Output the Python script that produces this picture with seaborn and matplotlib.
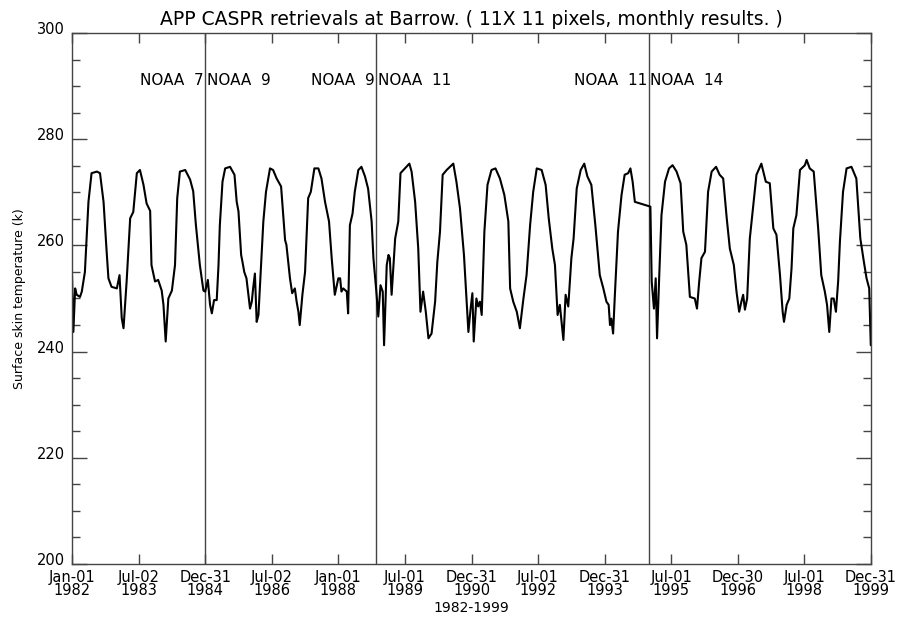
import numpy as np
import pandas as pd
import matplotlib
matplotlib.use("Agg")
import matplotlib.pyplot as plt
from matplotlib.ticker import MultipleLocator
from matplotlib.transforms import ScaledTranslation
import seaborn as sns

# ---- data (years since 1982-01-01, skin temperature in K) ----
t_years = [
    0.00, 0.03, 0.07, 0.105, 0.18, 0.22, 0.29, 0.37, 0.44, 0.56, 0.63, 0.71, 0.78, 0.82, 0.89,
    1.01, 1.07, 1.12, 1.16, 1.23, 1.31, 1.38, 1.46, 1.53, 1.61, 1.68, 1.76, 1.79, 1.87, 1.94,
    2.02, 2.06, 2.11, 2.17, 2.25, 2.32, 2.37, 2.43, 2.55, 2.66, 2.73, 2.79, 2.88, 2.96,
    3.00, 3.06, 3.11, 3.15, 3.20, 3.26, 3.30, 3.33, 3.39, 3.45, 3.56, 3.66, 3.71, 3.75, 3.81,
    3.84, 3.88, 3.93, 4.01, 4.05, 4.08, 4.12, 4.16, 4.20, 4.25, 4.31, 4.37, 4.46, 4.53, 4.61,
    4.71, 4.80, 4.83, 4.91, 4.96, 5.02, 5.06, 5.10, 5.13, 5.19, 5.25, 5.32, 5.38, 5.46, 5.55,
    5.62, 5.70, 5.79, 5.85, 5.92, 6.00,
    6.04, 6.07, 6.11, 6.15, 6.19, 6.22, 6.26, 6.32, 6.37, 6.45, 6.52, 6.60, 6.67, 6.75, 6.79,
    6.85, 6.90, 6.95, 7.00, 7.03, 7.09, 7.13, 7.16, 7.20, 7.28, 7.35, 7.40, 7.50, 7.60, 7.65,
    7.73, 7.80, 7.85, 7.91, 7.97, 8.03, 8.10, 8.18, 8.23, 8.29, 8.35, 8.44, 8.59, 8.66, 8.74,
    8.83, 8.93, 8.98, 9.02, 9.05,
    9.11, 9.15, 9.19, 9.23, 9.29, 9.36, 9.45, 9.54, 9.64, 9.74, 9.83, 9.87, 9.94, 10.02,
    10.09, 10.17, 10.24, 10.32, 10.39, 10.47, 10.58, 10.67, 10.74, 10.82, 10.88, 10.94, 10.99,
    11.07, 11.12, 11.18, 11.25, 11.30, 11.37, 11.46, 11.54, 11.61, 11.70, 11.79, 11.89, 11.97,
    12.04, 12.09,
    12.12, 12.15, 12.19, 12.23, 12.30, 12.38, 12.45, 12.53, 12.58, 12.63, 12.68, 13.03, 13.06,
    13.11, 13.15, 13.18, 13.23, 13.28, 13.36, 13.45, 13.53, 13.62, 13.71, 13.77, 13.84, 13.92,
    14.03, 14.08, 14.13, 14.18, 14.26, 14.33, 14.41, 14.51, 14.59, 14.67, 14.75, 14.82, 14.91,
    14.97, 15.03,
    15.08, 15.12, 15.16, 15.21, 15.27, 15.35, 15.42, 15.53, 15.63, 15.72, 15.80, 15.87, 15.95,
    16.01, 16.04, 16.10, 16.16, 16.21, 16.25, 16.32, 16.40, 16.51, 16.55, 16.62, 16.71, 16.81,
    16.88, 16.96, 17.01, 17.06, 17.11, 17.16, 17.21, 17.26, 17.30, 17.37, 17.45, 17.56, 17.67,
    17.76, 17.84, 17.90, 17.96, 17.995,
]
skin_temp = [
    254.4, 243.7, 251.9, 250.7, 250.3, 251.3, 255.0, 268.2, 273.6, 273.9, 273.6, 268.2, 258.8, 253.8, 252.2,
    251.9, 254.4, 246.3, 244.4, 253.2, 265.1, 266.3, 273.6, 274.2, 271.4, 267.9, 266.5, 256.3, 253.2, 253.5,
    251.5, 248.8, 241.9, 250.0, 251.5, 256.3, 268.9, 273.9, 274.2, 272.4, 270.2, 263.9, 256.3, 251.5,
    251.3, 253.5, 248.8, 247.2, 249.7, 249.7, 256.3, 263.8, 272.0, 274.5, 274.8, 273.3, 268.2, 266.4, 258.2,
    256.9, 255.0, 253.8, 248.1, 249.4, 251.9, 254.7, 245.6, 246.9, 255.0, 264.5, 270.1, 274.5, 274.2, 272.6,
    271.1, 261.0, 260.1, 253.8, 251.0, 251.9, 249.4, 247.5, 245.0, 250.7, 255.0, 268.9, 270.1, 274.5, 274.5,
    272.6, 268.2, 264.5, 257.6, 250.7, 253.8,
    253.8, 251.3, 251.9, 251.6, 251.3, 247.2, 263.8, 266.0, 270.1, 274.2, 274.8, 273.0, 270.7, 264.5, 257.6,
    251.9, 246.6, 252.5, 251.3, 241.2, 256.3, 258.2, 257.6, 250.7, 261.3, 264.5, 273.6, 274.5, 275.4, 273.9,
    268.2, 259.4, 247.5, 251.3, 247.5, 242.5, 243.4, 249.4, 256.9, 262.6, 273.3, 274.2, 275.4, 272.0, 267.0,
    258.2, 243.7, 248.1, 251.0, 241.9,
    250.0, 248.5, 249.4, 246.9, 262.6, 271.4, 274.2, 274.5, 272.6, 269.5, 264.5, 251.9, 249.4, 247.5,
    244.4, 250.0, 254.4, 263.8, 270.1, 274.5, 274.2, 271.4, 265.1, 259.4, 256.3, 246.9, 248.8,
    242.2, 250.7, 248.5, 257.6, 261.3, 270.7, 274.2, 275.4, 273.0, 271.4, 263.8, 254.4, 251.9,
    249.4, 248.8,
    245.0, 246.2, 243.4, 250.7, 262.6, 269.5, 273.3, 273.6, 274.5, 272.0, 268.2, 267.3, 253.2,
    248.1, 253.8, 242.5, 254.4, 265.7, 272.0, 274.5, 275.1, 273.9, 271.7, 262.6, 260.1, 250.3,
    250.0, 248.1, 253.2, 257.6, 258.8, 270.1, 273.9, 274.8, 273.3, 272.6, 265.1, 259.4, 256.3,
    251.3, 247.5,
    249.4, 250.7, 247.9, 250.0, 261.3, 267.6, 273.3, 275.4, 272.0, 271.7, 263.2, 262.0, 254.4,
    247.5, 245.6, 248.8, 250.0, 255.7, 263.2, 265.7, 274.2, 275.1, 276.1, 274.5, 273.9, 263.2,
    254.4, 251.3, 248.8, 243.7, 250.0, 250.0, 247.5, 253.2, 260.7, 270.1, 274.5, 274.8, 272.6,
    261.3, 256.9, 253.8, 251.9, 241.2,
]

start_year = 1982
end_year = 2000
satellite_changes = [2.995, 6.85, 12.99]          # years since start
labels_left = ["NOAA  7", "NOAA  9", "NOAA  11"]   # satellite before change
labels_right = ["NOAA  9", "NOAA  11", "NOAA  14"] # satellite after change
label_level = 291.0
tick_labels = ["Jan-01\n1982", "Jul-02\n1983", "Dec-31\n1984", "Jul-02\n1986", "Jan-01\n1988",
               "Jul-01\n1989", "Dec-31\n1990", "Jul-01\n1992", "Dec-31\n1993", "Jul-01\n1995",
               "Dec-30\n1996", "Jul-01\n1998", "Dec-31\n1999"]

df = pd.DataFrame({"year": start_year + np.array(t_years), "temp": skin_temp})

sns.set_style("ticks")
plt.rcParams["font.family"] = ["DejaVu Sans"]
plt.rcParams["text.color"] = "black"
plt.rcParams["axes.labelcolor"] = "black"

fig = plt.figure(figsize=(8.97, 6.18), dpi=100)
ax = fig.add_axes([0.0803, 0.0874, 0.8907, 0.8592])

sns.lineplot(data=df, x="year", y="temp", ax=ax, color="black", linewidth=1.5,
             estimator=None, sort=False)

for c, l1, l2 in zip(satellite_changes, labels_left, labels_right):
    xc = start_year + c
    ax.axvline(xc, color="#444444", linewidth=1.0, zorder=1)
    ax.text(xc - 0.04, label_level, l1, ha="right", va="center", fontsize=11, color="black")
    ax.text(xc + 0.04, label_level, l2, ha="left", va="center", fontsize=11, color="black")

ax.set_xlim(start_year, end_year)
ax.set_ylim(200, 300)
ax.set_xticks(np.linspace(start_year, end_year, len(tick_labels)))
ax.set_xticklabels(tick_labels, fontsize=10.5, linespacing=0.85)
ax.yaxis.set_major_locator(MultipleLocator(20))
ax.yaxis.set_minor_locator(MultipleLocator(5))
ax.tick_params(axis="y", which="major", direction="in", length=10.8, width=1, labelsize=10.5,
               left=True, right=True, color="#444444", labelcolor="black", pad=5)
ax.tick_params(axis="y", which="minor", direction="in", length=5.8, width=1,
               left=True, right=True, color="#444444")
ax.tick_params(axis="x", which="major", direction="in", length=7.5, width=1,
               top=True, bottom=True, color="#444444", labelcolor="black", pad=4)
for s in ax.spines.values():
    s.set_color("#444444")
    s.set_linewidth(1.0)

# IDL-style: y tick labels sit slightly above their ticks
shift_up = ScaledTranslation(0, 0.05, fig.dpi_scale_trans)
for lab in ax.get_yticklabels():
    lab.set_transform(lab.get_transform() + shift_up)

ax.set_xlabel("1982-1999", fontsize=10, labelpad=2, color="black")
ax.set_ylabel("Surface skin temperature (k)", fontsize=9, labelpad=8, color="black")
ax.set_title("APP CASPR retrievals at Barrow. ( 11X 11 pixels, monthly results. )",
             fontsize=13.5, pad=6, color="black")

fig.savefig("out.png", dpi=100)
